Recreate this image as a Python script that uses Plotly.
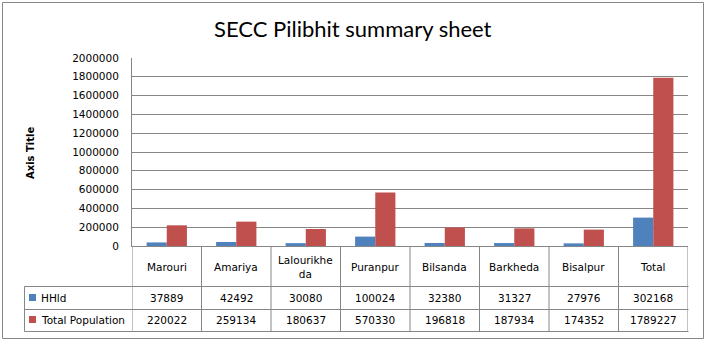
import plotly.graph_objects as go

categories = ["Marouri", "Amariya", "Lalourikheda", "Puranpur", "Bilsanda", "Barkheda", "Bisalpur", "Total"]
category_labels = ["Marouri", "Amariya", "Lalourikhe<br>da", "Puranpur", "Bilsanda", "Barkheda", "Bisalpur", "Total"]
hhld = [37889, 42492, 30080, 100024, 32380, 31327, 27976, 302168]
total_population = [220022, 259134, 180637, 570330, 196818, 187934, 174352, 1789227]
series_names = ["HHld", "Total Population"]
y_ticks = list(range(0, 2000001, 200000))

W, H = 706, 341
L, R, T, B = 132, 688, 58, 246
BLUE = "#4F81BD"
RED = "#C0504D"
GRID = "#868686"
FONT = "DejaVu Sans"


def px(x):
    return (x - L) / (R - L)


def py(y):
    return (B - y) / (B - T)


fig = go.Figure()
fig.add_trace(go.Bar(x=list(range(len(categories))), y=hhld, name=series_names[0],
                     marker=dict(color=BLUE, line=dict(width=0))))
fig.add_trace(go.Bar(x=list(range(len(categories))), y=total_population, name=series_names[1],
                     marker=dict(color=RED, line=dict(width=0))))

shapes = []
# outer chart border
shapes.append(dict(type="rect", xref="paper", yref="paper", x0=px(2.5), x1=px(703.5), y0=py(2.5), y1=py(338.5),
                   line=dict(color=GRID, width=1), layer="below"))
# table horizontal lines
for yy in [286.5, 309.5, 331.5]:
    shapes.append(dict(type="line", xref="paper", yref="paper", x0=px(24.5), x1=px(688.5), y0=py(yy), y1=py(yy),
                       line=dict(color=GRID, width=1)))
# left legend column border
shapes.append(dict(type="line", xref="paper", yref="paper", x0=px(24.5), x1=px(24.5), y0=py(286.5), y1=py(331.5),
                   line=dict(color=GRID, width=1)))
# category column borders
for i in range(len(categories) + 1):
    shapes.append(dict(type="line", xref="x", yref="paper", x0=i - 0.5, x1=i - 0.5, y0=py(246), y1=py(331.5),
                       line=dict(color=GRID, width=1)))
# legend keys
shapes.append(dict(type="rect", xref="paper", yref="paper", x0=px(29), x1=px(36), y0=py(294), y1=py(301),
                   fillcolor=BLUE, line=dict(width=0)))
shapes.append(dict(type="rect", xref="paper", yref="paper", x0=px(29), x1=px(36), y0=py(316), y1=py(323),
                   fillcolor=RED, line=dict(width=0)))

ann = []
tfont = dict(family=FONT, size=10.5, color="#000000")
for i, lab in enumerate(category_labels):
    ann.append(dict(x=i, y=py(266.5), xref="x", yref="paper", text=lab, showarrow=False, font=tfont,
                    xanchor="center", yanchor="middle"))
    ann.append(dict(x=i, y=py(298), xref="x", yref="paper", text=str(hhld[i]), showarrow=False, font=tfont,
                    xanchor="center", yanchor="middle"))
    ann.append(dict(x=i, y=py(320), xref="x", yref="paper", text=str(total_population[i]), showarrow=False,
                    font=tfont, xanchor="center", yanchor="middle"))
ann.append(dict(x=px(39), y=py(298), xref="paper", yref="paper", text=series_names[0], showarrow=False, font=tfont,
                xanchor="left", yanchor="middle"))
ann.append(dict(x=px(39), y=py(320), xref="paper", yref="paper", text=series_names[1], showarrow=False, font=tfont,
                xanchor="left", yanchor="middle"))
# title
ann.append(dict(x=px(353), y=py(28), xref="paper", yref="paper", text="SECC Pilibhit summary sheet", showarrow=False,
                font=dict(family="Lato", size=22, color="#000000"), xanchor="center", yanchor="middle"))
# axis title
ann.append(dict(x=px(30), y=py(153), xref="paper", yref="paper", text="<b>Axis Title</b>", showarrow=False,
                textangle=-90, font=dict(family=FONT, size=10, color="#000000"), xanchor="center", yanchor="middle"))

fig.update_layout(
    width=W, height=H, autosize=False,
    margin=dict(l=L, r=W - R, t=T, b=H - B, pad=0),
    paper_bgcolor="white", plot_bgcolor="white",
    showlegend=False,
    bargap=0.42, bargroupgap=0,
    shapes=shapes, annotations=ann,
    xaxis=dict(range=[-0.5, len(categories) - 0.5], showticklabels=False, showgrid=False, zeroline=False,
               showline=True, linecolor=GRID, linewidth=1, ticks=""),
    yaxis=dict(range=[0, 2000000], tickvals=y_ticks, ticktext=[str(v) for v in y_ticks], showgrid=True,
               gridcolor=GRID, gridwidth=1, zeroline=False, showline=True, linecolor=GRID, linewidth=1,
               ticks="", ticklabelstandoff=10, tickfont=dict(family=FONT, size=10.5, color="#000000")),
)

fig.write_html("out.html")
